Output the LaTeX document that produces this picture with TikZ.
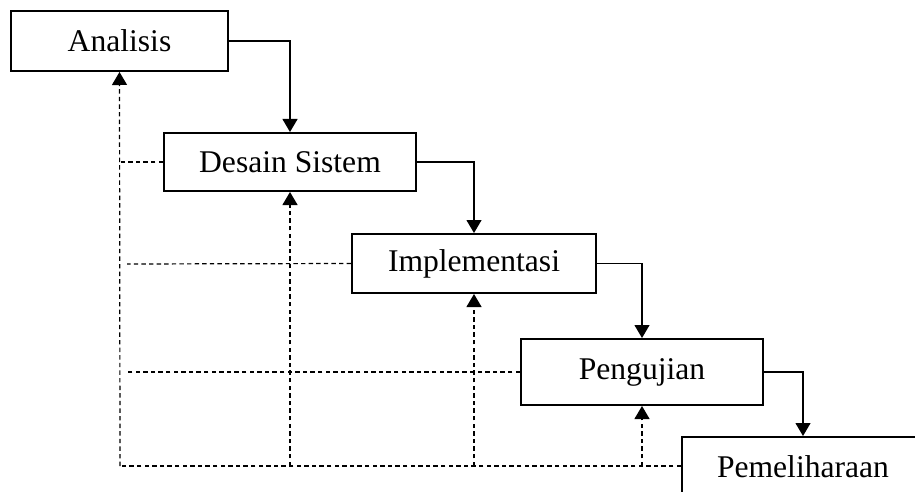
\documentclass[tikz,border=0pt]{standalone}
\usepackage{fontspec}
\setmainfont{Liberation Serif}
\usetikzlibrary{arrows.meta}

\begin{document}
\begin{tikzpicture}[x=0.5pt,y=-0.5pt,
  tahap/.style={draw,line width=1pt,inner sep=0pt,font=\fontsize{15.8}{19}\selectfont},
  alur/.style={line width=0.6pt,-{Triangle[length=6.5pt,width=7.5pt]}},
  balik/.style={line width=0.6pt,dash pattern=on 2.2pt off 1.6pt}]
\useasboundingbox (0,0) rectangle (915,492);
\clip (0,0) rectangle (915,492);

\node [tahap,minimum width=108.5pt,minimum height=30pt] (ana) at (119.5,41) {Analisis};
\node [tahap,minimum width=126pt,minimum height=29pt] (des) at (290,162) {Desain Sistem};
\node [tahap,minimum width=122pt,minimum height=29.5pt] (imp) at (474,263.5) {Implementasi};
\node [tahap,minimum width=121pt,minimum height=33pt] (uji) at (642,372) {Pengujian};
\node [tahap,minimum width=121pt,minimum height=30pt] (pem) at (803,467) {Pemeliharaan};

% alur turun
\draw[alur] (ana.east) -| (des.north);
\draw[alur] (des.east) -| (imp.north);
\draw[alur] (imp.east) -| (uji.north);
\draw[alur] (uji.east) -| (pem.north);

% alur balik
\coordinate (kiri) at (120,466);
\coordinate (b2) at (des.south |- kiri);
\coordinate (b3) at (imp.south |- kiri);
\coordinate (b4) at (uji.south |- kiri);
\coordinate (h2) at (120,162);
\coordinate (h3) at (127,264);
\coordinate (h4) at (127,372);

\draw[balik] (pem.west |- kiri) -- (kiri);
\draw[balik,-{Triangle[length=6.5pt,width=7.5pt]}] (kiri) -- (ana.south);
\draw[balik,-{Triangle[length=6.5pt,width=7.5pt]}] (b2) -- (des.south);
\draw[balik,-{Triangle[length=6.5pt,width=7.5pt]}] (b3) -- (imp.south);
\draw[balik,-{Triangle[length=6.5pt,width=7.5pt]}] (b4) -- (uji.south);

\draw[balik] (des.west) -- (h2);
\draw[balik] (imp.west) -- (h3);
\draw[balik] (uji.west) -- (h4);

\end{tikzpicture}
\end{document}
